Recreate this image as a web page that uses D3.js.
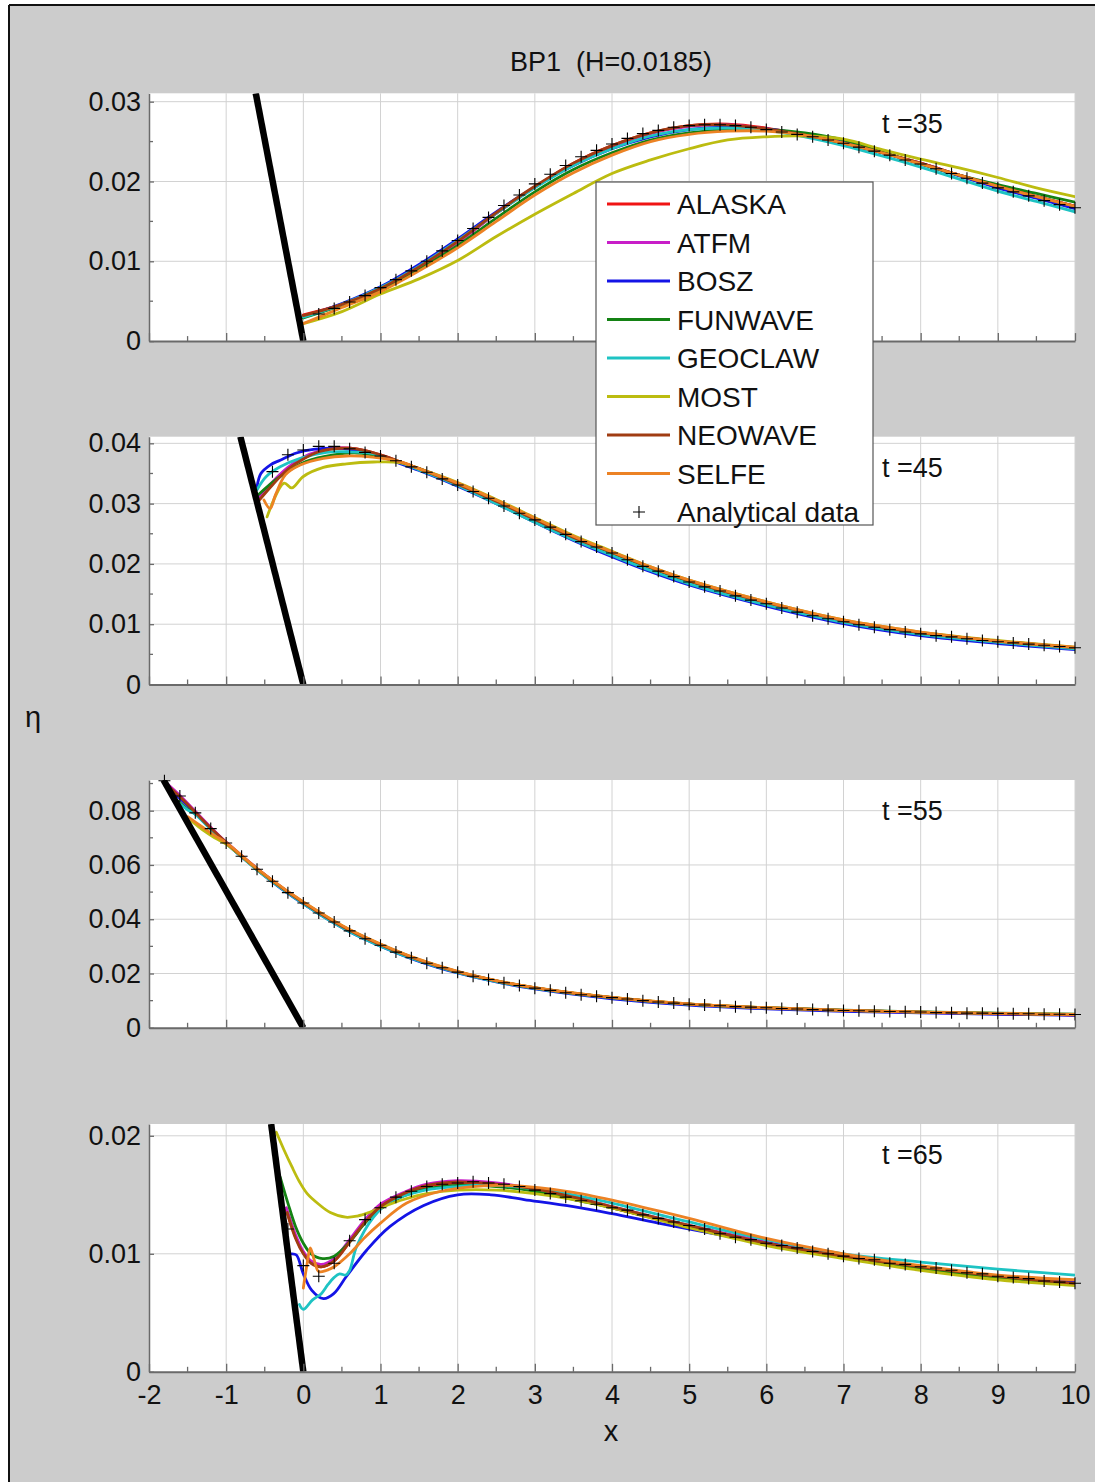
<!DOCTYPE html>
<html>
<head>
<meta charset="utf-8">
<script src="https://cdn.jsdelivr.net/npm/d3@7"></script>
<style>
  body { margin: 0; background: #ffffff; }
  text { font-family: "Liberation Sans", Arial, Helvetica, sans-serif; fill: #111; }
</style>
</head>
<body>
<svg id="chart" width="1095" height="1482"></svg>
<script>
// ---------------- data ----------------
const models = ["ALASKA", "ATFM", "BOSZ", "FUNWAVE", "GEOCLAW", "MOST", "NEOWAVE", "SELFE"];
const modelColors = ["#f01414", "#c81ec8", "#1414e6", "#148214", "#1ec3c3", "#bcbc10", "#a03c12", "#ec8224"];
const times = [35, 45, 55, 65];
const xTickValues = [-2, -1, 0, 1, 2, 3, 4, 5, 6, 7, 8, 9, 10];
const beachSlope = 1 / 19.85;

// y ranges and ticks for each panel
const yTop = [0.03105, 0.0411, 0.0913, 0.0210];
const yMajor35 = [0, 0.01, 0.02, 0.03];
const yMajor45 = [0, 0.01, 0.02, 0.03, 0.04];
const yMajor55 = [0, 0.02, 0.04, 0.06, 0.08];
const yMajor65 = [0, 0.01, 0.02];
const yMinorStep = [0.005, 0.005, 0.01, null];

// analytical solution (x step 0.2)
const xAnalytic35 = [0.2,0.4,0.6,0.8,1.0,1.2,1.4,1.6,1.8,2.0,2.2,2.4,2.6,2.8,3.0,3.2,3.4,3.6,3.8,4.0,4.2,4.4,4.6,4.8,5.0,5.2,5.4,5.6,5.8,6.0,6.2,6.4,6.6,6.8,7.0,7.2,7.4,7.6,7.8,8.0,8.2,8.4,8.6,8.8,9.0,9.2,9.4,9.6,9.8,10.0];
const etaAnalytic35 = [0.0034,0.0041,0.0049,0.0057,0.0067,0.0077,0.0088,0.0100,0.0113,0.0126,0.0141,0.0155,0.0170,0.0183,0.0197,0.0209,0.0220,0.0231,0.0239,0.0247,0.0254,0.0260,0.0264,0.0268,0.0270,0.0271,0.0271,0.0270,0.0268,0.0265,0.0262,0.0259,0.0256,0.0252,0.0248,0.0243,0.0238,0.0233,0.0227,0.0222,0.0216,0.0210,0.0204,0.0198,0.0192,0.0187,0.0182,0.0176,0.0171,0.0167];

const xAnalytic45 = [-0.4,-0.2,0.0,0.2,0.4,0.6,0.8,1.0,1.2,1.4,1.6,1.8,2.0,2.2,2.4,2.6,2.8,3.0,3.2,3.4,3.6,3.8,4.0,4.2,4.4,4.6,4.8,5.0,5.2,5.4,5.6,5.8,6.0,6.2,6.4,6.6,6.8,7.0,7.2,7.4,7.6,7.8,8.0,8.2,8.4,8.6,8.8,9.0,9.2,9.4,9.6,9.8,10.0];
const etaAnalytic45 = [0.0353,0.0381,0.0389,0.0395,0.0395,0.0391,0.0385,0.0379,0.0371,0.0361,0.0352,0.0341,0.0331,0.0320,0.0309,0.0296,0.0284,0.0273,0.0261,0.0249,0.0237,0.0228,0.0218,0.0207,0.0196,0.0188,0.0179,0.0170,0.0162,0.0155,0.0147,0.0140,0.0134,0.0127,0.0120,0.0114,0.0109,0.0104,0.0099,0.0095,0.0091,0.0087,0.0084,0.0081,0.0079,0.0076,0.0073,0.0071,0.0069,0.0067,0.0065,0.0063,0.0061];

const xAnalytic55 = [-1.8,-1.6,-1.4,-1.2,-1.0,-0.8,-0.6,-0.4,-0.2,0.0,0.2,0.4,0.6,0.8,1.0,1.2,1.4,1.6,1.8,2.0,2.2,2.4,2.6,2.8,3.0,3.2,3.4,3.6,3.8,4.0,4.2,4.4,4.6,4.8,5.0,5.2,5.4,5.6,5.8,6.0,6.2,6.4,6.6,6.8,7.0,7.2,7.4,7.6,7.8,8.0,8.2,8.4,8.6,8.8,9.0,9.2,9.4,9.6,9.8,10.0];
const etaAnalytic55 = [0.0910,0.0854,0.0792,0.0734,0.0681,0.0632,0.0584,0.0540,0.0498,0.0460,0.0423,0.0390,0.0357,0.0328,0.0304,0.0279,0.0258,0.0238,0.0221,0.0205,0.0190,0.0178,0.0166,0.0156,0.0146,0.0138,0.0129,0.0122,0.0116,0.0111,0.0106,0.0100,0.0095,0.0091,0.0087,0.0084,0.0081,0.0078,0.0076,0.0074,0.0071,0.0069,0.0067,0.0065,0.0064,0.0063,0.0061,0.0060,0.0059,0.0058,0.0056,0.0055,0.0054,0.0054,0.0053,0.0052,0.0052,0.0050,0.0050,0.0049];

const xAnalytic65 = [-0.2,0.0,0.2,0.4,0.6,0.8,1.0,1.2,1.4,1.6,1.8,2.0,2.2,2.4,2.6,2.8,3.0,3.2,3.4,3.6,3.8,4.0,4.2,4.4,4.6,4.8,5.0,5.2,5.4,5.6,5.8,6.0,6.2,6.4,6.6,6.8,7.0,7.2,7.4,7.6,7.8,8.0,8.2,8.4,8.6,8.8,9.0,9.2,9.4,9.6,9.8,10.0];
const etaAnalytic65 = [0.0121,0.0090,0.0081,0.0092,0.0111,0.0129,0.0139,0.0148,0.0153,0.0157,0.0159,0.0160,0.0161,0.0160,0.0159,0.0157,0.0154,0.0151,0.0148,0.0145,0.0142,0.0139,0.0137,0.0133,0.0130,0.0127,0.0124,0.0121,0.0117,0.0114,0.0112,0.0109,0.0107,0.0105,0.0102,0.0100,0.0098,0.0096,0.0095,0.0092,0.0091,0.0089,0.0088,0.0086,0.0084,0.0083,0.0081,0.0080,0.0079,0.0077,0.0076,0.0075];

// model results, t = 35 (shared x grid)
const xModel35 = [0,0.5,1,1.5,2,2.5,3,3.5,4,4.5,5,5.5,6,6.5,7,7.5,8,8.5,9,9.5,10];
const ALASKA_35  = [0.0033,0.0046,0.0066,0.0093,0.0124,0.0160,0.0193,0.0223,0.0245,0.0261,0.0270,0.0272,0.0267,0.0258,0.0248,0.0236,0.0223,0.0208,0.0194,0.0181,0.0169];
const ATFM_35    = [0.0031,0.0046,0.0066,0.0093,0.0124,0.0160,0.0193,0.0222,0.0244,0.0260,0.0269,0.0271,0.0266,0.0258,0.0248,0.0236,0.0223,0.0208,0.0194,0.0181,0.0169];
const BOSZ_35    = [0.0030,0.0047,0.0068,0.0096,0.0128,0.0162,0.0193,0.0220,0.0241,0.0256,0.0265,0.0268,0.0266,0.0259,0.0249,0.0236,0.0222,0.0207,0.0192,0.0179,0.0166];
const FUNWAVE_35 = [0.0029,0.0045,0.0064,0.0090,0.0120,0.0154,0.0187,0.0215,0.0236,0.0252,0.0261,0.0265,0.0265,0.0261,0.0252,0.0237,0.0222,0.0208,0.0196,0.0185,0.0174];
const GEOCLAW_35 = [0.0030,0.0046,0.0067,0.0094,0.0126,0.0160,0.0192,0.0220,0.0241,0.0257,0.0265,0.0267,0.0264,0.0256,0.0245,0.0232,0.0218,0.0203,0.0188,0.0175,0.0162];
const MOST_35    = [0.0022,0.0037,0.0059,0.0078,0.0101,0.0131,0.0159,0.0185,0.0210,0.0227,0.0241,0.0252,0.0256,0.0257,0.0253,0.0240,0.0228,0.0217,0.0205,0.0192,0.0181];
const NEOWAVE_35 = [0.0032,0.0046,0.0066,0.0093,0.0125,0.0161,0.0194,0.0223,0.0245,0.0261,0.0270,0.0271,0.0266,0.0258,0.0248,0.0236,0.0223,0.0208,0.0194,0.0181,0.0169];
const SELFE_35   = [0.0022,0.0042,0.0062,0.0088,0.0117,0.0150,0.0183,0.0211,0.0233,0.0250,0.0259,0.0263,0.0263,0.0258,0.0248,0.0236,0.0222,0.0208,0.0194,0.0181,0.0169];

// model results, t = 45 ([x, eta] pairs)
const ALASKA_45  = [[-0.58,0.0309],[-0.4,0.0333],[-0.2,0.0358],[0,0.0375],[0.2,0.0386],[0.4,0.0392],[0.6,0.0392],[0.8,0.0388],[1.0,0.0381],[1.2,0.0372],[1.5,0.0358],[2,0.0332],[2.5,0.0303],[3,0.0273],[3.5,0.0244],[4,0.0218],[4.5,0.0193],[5,0.0171],[6,0.0135],[7,0.0106],[8,0.0085],[9,0.0071],[10,0.0060]];
const ATFM_45    = [[-0.58,0.0310],[-0.4,0.0336],[-0.2,0.0360],[0,0.0377],[0.2,0.0387],[0.4,0.0392],[0.6,0.0392],[0.8,0.0387],[1.0,0.0380],[1.2,0.0371],[1.5,0.0357],[2,0.0331],[2.5,0.0302],[3,0.0272],[3.5,0.0243],[4,0.0217],[4.5,0.0192],[5,0.0170],[6,0.0134],[7,0.0105],[8,0.0085],[9,0.0071],[10,0.0060]];
const BOSZ_45    = [[-0.6,0.0328],[-0.55,0.0350],[-0.43,0.0364],[-0.3,0.0372],[-0.09,0.0384],[0.13,0.0390],[0.4,0.0392],[0.6,0.0390],[0.8,0.0385],[1.0,0.0378],[1.2,0.0369],[1.5,0.0355],[2,0.0329],[2.5,0.0300],[3,0.0269],[3.5,0.0239],[4,0.0212],[4.5,0.0187],[5,0.0165],[6,0.0130],[7,0.0101],[8,0.0081],[9,0.0068],[10,0.0058]];
const FUNWAVE_45 = [[-0.58,0.0315],[-0.3,0.0345],[0.04,0.0370],[0.39,0.0381],[0.69,0.0384],[0.99,0.0379],[1.2,0.0371],[1.5,0.0358],[2,0.0333],[2.5,0.0304],[3,0.0274],[3.5,0.0244],[4,0.0218],[4.5,0.0193],[5,0.0171],[6,0.0135],[7,0.0106],[8,0.0085],[9,0.0071],[10,0.0060]];
const GEOCLAW_45 = [[-0.6,0.0323],[-0.48,0.0345],[-0.3,0.0361],[-0.04,0.0375],[0.3,0.0385],[0.56,0.0386],[0.9,0.0383],[1.2,0.0371],[1.5,0.0356],[2,0.0330],[2.5,0.0300],[3,0.0269],[3.5,0.0240],[4,0.0214],[4.5,0.0189],[5,0.0167],[6,0.0132],[7,0.0103],[8,0.0083],[9,0.0070],[10,0.0059]];
const MOST_45    = [[-0.47,0.0278],[-0.25,0.0334],[-0.15,0.0326],[0.0,0.0345],[0.26,0.0360],[0.56,0.0366],[0.91,0.0369],[1.25,0.0368],[1.5,0.0358],[2,0.0335],[2.5,0.0307],[3,0.0277],[3.5,0.0247],[4,0.0221],[4.5,0.0195],[5,0.0173],[6,0.0137],[7,0.0107],[8,0.0087],[9,0.0073],[10,0.0062]];
const NEOWAVE_45 = [[-0.57,0.0306],[-0.4,0.0331],[-0.2,0.0357],[0,0.0374],[0.2,0.0386],[0.4,0.0391],[0.6,0.0392],[0.8,0.0388],[1.0,0.0381],[1.2,0.0372],[1.5,0.0358],[2,0.0332],[2.5,0.0304],[3,0.0274],[3.5,0.0244],[4,0.0219],[4.5,0.0194],[5,0.0172],[6,0.0136],[7,0.0106],[8,0.0086],[9,0.0072],[10,0.0061]];
const SELFE_45   = [[-0.51,0.0306],[-0.43,0.0292],[-0.36,0.0315],[-0.23,0.0348],[-0.04,0.0364],[0.26,0.0375],[0.56,0.0379],[0.9,0.0377],[1.24,0.0370],[1.5,0.0358],[2,0.0334],[2.5,0.0306],[3,0.0276],[3.5,0.0246],[4,0.0220],[4.5,0.0195],[5,0.0173],[6,0.0137],[7,0.0107],[8,0.0087],[9,0.0072],[10,0.0062]];

// model results, t = 55
const ALASKA_55  = [[-1.8,0.0905],[-1.6,0.0852],[-1.4,0.0795],[-1.2,0.0737],[-1.0,0.0683],[-0.6,0.0586],[-0.2,0.0500],[0.2,0.0425],[0.6,0.0359],[1.0,0.0306],[1.5,0.0250],[2.0,0.0206],[2.5,0.0173],[3.0,0.0147],[4.0,0.0111],[5.0,0.0087],[6.0,0.0073],[7.0,0.0064],[8.0,0.0057],[9.0,0.0052],[10.0,0.0048]];
const ATFM_55    = [[-1.8,0.0908],[-1.6,0.0856],[-1.4,0.0798],[-1.2,0.0739],[-1.0,0.0684],[-0.6,0.0587],[-0.2,0.0501],[0.2,0.0425],[0.6,0.0359],[1.0,0.0306],[1.5,0.0250],[2.0,0.0206],[2.5,0.0173],[3.0,0.0147],[4.0,0.0111],[5.0,0.0087],[6.0,0.0073],[7.0,0.0064],[8.0,0.0057],[9.0,0.0052],[10.0,0.0048]];
const BOSZ_55    = [[-1.75,0.0880],[-1.6,0.0845],[-1.4,0.0790],[-1.2,0.0733],[-1.0,0.0679],[-0.6,0.0582],[-0.2,0.0495],[0.2,0.0420],[0.6,0.0354],[1.0,0.0301],[1.5,0.0245],[2.0,0.0202],[2.5,0.0169],[3.0,0.0143],[4.0,0.0107],[5.0,0.0084],[6.0,0.0070],[7.0,0.0061],[8.0,0.0055],[9.0,0.0050],[10.0,0.0046]];
const FUNWAVE_55 = [[-1.62,0.0835],[-1.5,0.0806],[-1.4,0.0788],[-1.2,0.0733],[-1.0,0.0681],[-0.6,0.0584],[-0.2,0.0498],[0.2,0.0423],[0.6,0.0357],[1.0,0.0304],[1.5,0.0248],[2.0,0.0205],[2.5,0.0172],[3.0,0.0146],[4.0,0.0111],[5.0,0.0087],[6.0,0.0074],[7.0,0.0065],[8.0,0.0059],[9.0,0.0054],[10.0,0.0050]];
const GEOCLAW_55 = [[-1.62,0.0830],[-1.5,0.0803],[-1.4,0.0786],[-1.2,0.0731],[-1.0,0.0679],[-0.6,0.0582],[-0.2,0.0496],[0.2,0.0420],[0.6,0.0354],[1.0,0.0301],[1.5,0.0246],[2.0,0.0203],[2.5,0.0170],[3.0,0.0145],[4.0,0.0110],[5.0,0.0086],[6.0,0.0073],[7.0,0.0064],[8.0,0.0058],[9.0,0.0053],[10.0,0.0049]];
const MOST_55    = [[-1.45,0.0762],[-1.3,0.0728],[-1.15,0.0700],[-1.0,0.0677],[-0.6,0.0584],[-0.2,0.0501],[0.2,0.0427],[0.6,0.0361],[1.0,0.0308],[1.5,0.0251],[2.0,0.0207],[2.5,0.0174],[3.0,0.0148],[4.0,0.0112],[5.0,0.0088],[6.0,0.0074],[7.0,0.0064],[8.0,0.0058],[9.0,0.0053],[10.0,0.0049]];
const NEOWAVE_55 = [[-1.8,0.0904],[-1.6,0.0851],[-1.4,0.0794],[-1.2,0.0736],[-1.0,0.0683],[-0.6,0.0586],[-0.2,0.0500],[0.2,0.0425],[0.6,0.0359],[1.0,0.0306],[1.5,0.0250],[2.0,0.0206],[2.5,0.0173],[3.0,0.0147],[4.0,0.0111],[5.0,0.0087],[6.0,0.0073],[7.0,0.0064],[8.0,0.0058],[9.0,0.0052],[10.0,0.0048]];
const SELFE_55   = [[-1.5,0.0778],[-1.3,0.0738],[-1.15,0.0708],[-1.0,0.0682],[-0.6,0.0587],[-0.2,0.0503],[0.2,0.0428],[0.6,0.0362],[1.0,0.0309],[1.5,0.0252],[2.0,0.0208],[2.5,0.0174],[3.0,0.0148],[4.0,0.0112],[5.0,0.0088],[6.0,0.0074],[7.0,0.0064],[8.0,0.0058],[9.0,0.0053],[10.0,0.0049]];

// model results, t = 65
const ALASKA_65  = [[-0.22,0.0137],[-0.1,0.0114],[0,0.0101],[0.1,0.0093],[0.23,0.0089],[0.4,0.0094],[0.6,0.0110],[0.8,0.0127],[1.0,0.0139],[1.3,0.0150],[1.6,0.0157],[2.0,0.0160],[2.5,0.0159],[3,0.0154],[3.5,0.0147],[4,0.0139],[5,0.0123],[6,0.0109],[7,0.0098],[8,0.0089],[9,0.0081],[10,0.0075]];
const ATFM_65    = [[-0.22,0.0139],[-0.1,0.0116],[0,0.0102],[0.1,0.0094],[0.23,0.0091],[0.4,0.0096],[0.6,0.0112],[0.8,0.0129],[1.0,0.0142],[1.3,0.0152],[1.6,0.0159],[2.0,0.0162],[2.5,0.0160],[3,0.0155],[3.5,0.0148],[4,0.0140],[5,0.0124],[6,0.0110],[7,0.0098],[8,0.0089],[9,0.0081],[10,0.0075]];
const BOSZ_65    = [[-0.15,0.0100],[-0.09,0.0099],[0,0.0083],[0.11,0.0069],[0.26,0.0062],[0.39,0.0066],[0.56,0.0081],[0.82,0.0103],[1.12,0.0123],[1.56,0.0141],[2.0,0.0150],[2.43,0.0150],[2.86,0.0146],[3.5,0.0140],[4,0.0134],[4.6,0.0126],[5.4,0.0116],[6.2,0.0107],[7,0.0098],[8,0.0089],[9,0.0081],[10,0.0076]];
const FUNWAVE_65 = [[-0.3,0.0165],[-0.2,0.0143],[-0.1,0.0123],[0.0,0.0109],[0.1,0.0100],[0.25,0.0096],[0.4,0.0098],[0.6,0.0110],[0.8,0.0126],[1.0,0.0138],[1.3,0.0149],[1.6,0.0155],[2,0.0158],[2.5,0.0157],[3,0.0153],[3.5,0.0146],[4,0.0139],[5,0.0123],[6,0.0108],[7,0.0097],[8,0.0087],[9,0.0080],[10,0.0074]];
const GEOCLAW_65 = [[-0.05,0.0057],[0.0,0.0053],[0.12,0.0061],[0.23,0.0066],[0.32,0.0074],[0.4,0.0080],[0.47,0.0083],[0.55,0.0082],[0.6,0.0086],[0.69,0.0106],[0.91,0.0131],[1.12,0.0144],[1.58,0.0154],[2.0,0.0157],[2.5,0.0158],[3,0.0155],[3.5,0.0150],[4,0.0143],[5,0.0127],[6,0.0112],[7,0.0100],[8,0.0093],[9,0.0087],[10,0.0082]];
const MOST_65    = [[-0.35,0.0203],[-0.25,0.0188],[-0.15,0.0174],[-0.05,0.0161],[0.05,0.0151],[0.2,0.0142],[0.35,0.0135],[0.55,0.0131],[0.7,0.0132],[0.85,0.0135],[1.0,0.0139],[1.3,0.0146],[1.6,0.0151],[2,0.0154],[2.5,0.0154],[3,0.0151],[3.5,0.0146],[4,0.0139],[5,0.0122],[6,0.0107],[7,0.0096],[8,0.0086],[9,0.0078],[10,0.0073]];
const NEOWAVE_65 = [[-0.21,0.0135],[-0.1,0.0113],[0,0.0100],[0.1,0.0092],[0.23,0.0089],[0.4,0.0094],[0.6,0.0110],[0.8,0.0127],[1.0,0.0140],[1.3,0.0151],[1.6,0.0158],[2.0,0.0161],[2.5,0.0159],[3,0.0155],[3.5,0.0148],[4,0.0140],[5,0.0124],[6,0.0109],[7,0.0098],[8,0.0089],[9,0.0081],[10,0.0075]];
const SELFE_65   = [[0,0.0071],[0.05,0.0092],[0.09,0.0105],[0.14,0.0095],[0.2,0.0085],[0.3,0.0086],[0.4,0.0089],[0.6,0.0100],[0.8,0.0114],[1.0,0.0126],[1.34,0.0143],[1.78,0.0153],[2.2,0.0157],[2.6,0.0158],[3.05,0.0156],[3.5,0.0152],[4.1,0.0144],[5,0.0130],[6,0.0113],[7,0.0100],[8,0.0090],[9,0.0082],[10,0.0078]];

// ---------------- assemble panels ----------------
const zip = (xs, ys) => xs.map((x, i) => [x, ys[i]]);
const panels = [
  { t: 35, major: yMajor35, analytic: zip(xAnalytic35, etaAnalytic35),
    series: [ALASKA_35, ATFM_35, BOSZ_35, FUNWAVE_35, GEOCLAW_35, MOST_35, NEOWAVE_35, SELFE_35].map(v => zip(xModel35, v)) },
  { t: 45, major: yMajor45, analytic: zip(xAnalytic45, etaAnalytic45),
    series: [ALASKA_45, ATFM_45, BOSZ_45, FUNWAVE_45, GEOCLAW_45, MOST_45, NEOWAVE_45, SELFE_45] },
  { t: 55, major: yMajor55, analytic: zip(xAnalytic55, etaAnalytic55),
    series: [ALASKA_55, ATFM_55, BOSZ_55, FUNWAVE_55, GEOCLAW_55, MOST_55, NEOWAVE_55, SELFE_55] },
  { t: 65, major: yMajor65, analytic: zip(xAnalytic65, etaAnalytic65),
    series: [ALASKA_65, ATFM_65, BOSZ_65, FUNWAVE_65, GEOCLAW_65, MOST_65, NEOWAVE_65, SELFE_65] }
];

// ---------------- layout ----------------
const W = 1095, H = 1482;
const plotLeft = 149, plotRight = 1075;
const panelTop = [93.3, 436.7, 780, 1124];
const panelH = 247.8;
const axisGray = "#6a6a6a";
const gridGray = "#d2d2d2";
const fontFamily = '"Liberation Sans", Arial, sans-serif';

const svg = d3.select("#chart");

// page background and frame
svg.append("rect").attr("width", W).attr("height", H).attr("fill", "#ffffff");
svg.append("rect").attr("x", 9).attr("y", 5).attr("width", W - 9).attr("height", H - 5).attr("fill", "#cccccc");
svg.append("line").attr("x1", 9).attr("x2", W).attr("y1", 5).attr("y2", 5).attr("stroke", "#111").attr("stroke-width", 2);
svg.append("line").attr("x1", 9).attr("x2", 9).attr("y1", 5).attr("y2", H).attr("stroke", "#111").attr("stroke-width", 2);

const x = d3.scaleLinear().domain([-2, 10]).range([plotLeft, plotRight]);
const xMinor = d3.range(-1.5, 10, 1);

const line = (ys) => d3.line().x(d => x(d[0])).y(d => ys(d[1])).curve(d3.curveCatmullRom.alpha(0.5));

panels.forEach((p, i) => {
  const top = panelTop[i], bottom = top + panelH;
  const y = d3.scaleLinear().domain([0, yTop[i]]).range([bottom, top]);
  const g = svg.append("g");

  // plotting area
  g.append("rect").attr("x", plotLeft).attr("y", top).attr("width", plotRight - plotLeft).attr("height", panelH).attr("fill", "#ffffff");

  // grid
  g.append("g").selectAll("line").data(xTickValues.slice(1)).join("line")
    .attr("x1", d => x(d)).attr("x2", d => x(d)).attr("y1", top).attr("y2", bottom)
    .attr("stroke", gridGray).attr("stroke-width", 1);
  g.append("g").selectAll("line").data(p.major.slice(1)).join("line")
    .attr("x1", plotLeft).attr("x2", plotRight).attr("y1", d => y(d)).attr("y2", d => y(d))
    .attr("stroke", gridGray).attr("stroke-width", 1);

  // clip for the curves
  const clipId = "clip" + i;
  svg.append("clipPath").attr("id", clipId).append("rect")
    .attr("x", plotLeft).attr("y", top).attr("width", plotRight - plotLeft).attr("height", panelH);

  const curves = g.append("g").attr("clip-path", `url(#${clipId})`);
  p.series.forEach((s, k) => {
    curves.append("path").datum(s)
      .attr("d", line(y))
      .attr("fill", "none").attr("stroke", modelColors[k]).attr("stroke-width", 2.8)
      .attr("stroke-linejoin", "round").attr("stroke-linecap", "round");
  });

  // sloping beach, eta = -x * slope
  const beach = [[0, 0], [-yTop[i] / beachSlope, yTop[i]]];
  curves.append("path").datum(beach)
    .attr("d", d3.line().x(d => x(d[0])).y(d => y(d[1])))
    .attr("stroke", "#000").attr("stroke-width", 6.5).attr("fill", "none");

  // analytical markers
  const mk = 6;
  g.append("g").selectAll("path").data(p.analytic).join("path")
    .attr("d", d => `M${x(d[0]) - mk},${y(d[1])}H${x(d[0]) + mk}M${x(d[0])},${y(d[1]) - mk}V${y(d[1]) + mk}`)
    .attr("stroke", "#000").attr("stroke-width", 1.1).attr("fill", "none");

  // left axis
  const yAxis = d3.axisLeft(y).tickValues(p.major).tickSizeInner(-5).tickSizeOuter(0).tickPadding(8)
    .tickFormat(d => d === 0 ? "0" : d3.format(".2f")(d));
  const ya = g.append("g").attr("transform", `translate(${plotLeft},0)`).call(yAxis);
  ya.select(".domain").attr("stroke", axisGray).attr("stroke-width", 1.5);
  ya.selectAll(".tick line").attr("stroke", axisGray).attr("stroke-width", 1.3);
  ya.selectAll(".tick text").attr("font-size", 27).attr("fill", "#111").attr("font-family", fontFamily);
  if (yMinorStep[i]) {
    const minor = d3.range(yMinorStep[i], yTop[i], yMinorStep[i] * 2).filter(v => v < yTop[i]);
    g.append("g").selectAll("line").data(minor).join("line")
      .attr("x1", plotLeft).attr("x2", plotLeft + 4).attr("y1", d => y(d)).attr("y2", d => y(d))
      .attr("stroke", axisGray).attr("stroke-width", 1.3);
  }

  // bottom axis (labels only under the last panel, plain hyphen for negatives)
  const xAxis = d3.axisBottom(x).tickValues(xTickValues).tickSizeInner(-8).tickSizeOuter(0).tickPadding(13)
    .tickFormat(i === 3 ? (d => String(d)) : () => "");
  const xa = g.append("g").attr("transform", `translate(0,${bottom})`).call(xAxis);
  xa.select(".domain").attr("stroke", axisGray).attr("stroke-width", 2);
  xa.selectAll(".tick line").attr("stroke", axisGray).attr("stroke-width", 1.3);
  xa.selectAll(".tick text").attr("font-size", 27).attr("fill", "#111").attr("font-family", fontFamily);
  g.append("g").selectAll("line").data(xMinor).join("line")
    .attr("x1", d => x(d)).attr("x2", d => x(d)).attr("y1", bottom).attr("y2", bottom - 5)
    .attr("stroke", axisGray).attr("stroke-width", 1.3);

  // time label
  g.append("text").attr("x", x(7.5)).attr("y", top + 40).attr("font-size", 27).text(`t =${p.t}`);
});

// titles
svg.append("text").attr("x", 611).attr("y", 71).attr("text-anchor", "middle").attr("font-size", 27)
  .attr("xml:space", "preserve").text("BP1  (H=0.0185)");
svg.append("text").attr("x", 611).attr("y", 1441).attr("text-anchor", "middle").attr("font-size", 29).text("x");
svg.append("text").attr("x", 33).attr("y", 727).attr("text-anchor", "middle").attr("font-size", 29).text("η");

// legend
const lg = svg.append("g");
const lgX = 596, lgY = 182, lgW = 277, lgH = 343, rowH = 38.5, firstBase = 214;
lg.append("rect").attr("x", lgX).attr("y", lgY).attr("width", lgW).attr("height", lgH)
  .attr("fill", "#ffffff").attr("stroke", "#555").attr("stroke-width", 1.2);
const entries = models.map((m, k) => ({ name: m, color: modelColors[k] })).concat([{ name: "Analytical data", color: null }]);
entries.forEach((e, k) => {
  const base = firstBase + k * rowH;
  if (e.color) {
    lg.append("line").attr("x1", 607).attr("x2", 670).attr("y1", base - 10).attr("y2", base - 10)
      .attr("stroke", e.color).attr("stroke-width", 2.8);
  } else {
    lg.append("path").attr("d", `M${639 - 6},${base - 10}H${639 + 6}M639,${base - 16}V${base - 4}`)
      .attr("stroke", "#000").attr("stroke-width", 1.1);
  }
  lg.append("text").attr("x", 677).attr("y", base).attr("font-size", 28).text(e.name);
});
</script>
</body>
</html>
